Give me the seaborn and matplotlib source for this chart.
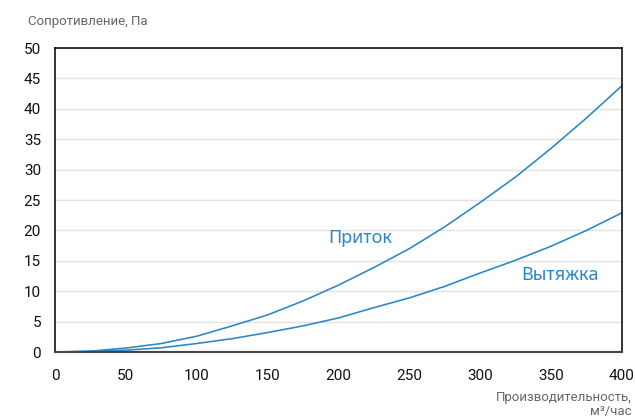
import matplotlib
matplotlib.use("Agg")
import matplotlib.pyplot as plt
import pandas as pd
import seaborn as sns

# air flow, m3/h
flow = [0, 25, 50, 75, 100, 125, 150, 175, 200, 225, 250, 275, 300, 325, 350, 375, 400]
# pressure drop, Pa
supply = [0, 0.15, 0.65, 1.4, 2.6, 4.3, 6.1, 8.4, 11.0, 13.9, 17.0, 20.6, 24.6, 28.8, 33.5, 38.5, 43.8]
exhaust = [0, 0.1, 0.3, 0.7, 1.4, 2.2, 3.2, 4.3, 5.6, 7.3, 8.9, 10.8, 13.0, 15.1, 17.4, 20.0, 22.9]

series_names = ["Приток", "Вытяжка"]
x_ticks = list(range(0, 401, 50))
y_ticks = list(range(0, 51, 5))

LINE = "#2a86c6"

df = pd.DataFrame({
    "flow": flow * 2,
    "dp": supply + exhaust,
    "series": [series_names[0]] * len(flow) + [series_names[1]] * len(flow),
})

sns.set_style("white")
plt.rcParams["font.family"] = ["Roboto", "DejaVu Sans"]

fig = plt.figure(figsize=(6.35, 4.16), dpi=100)
ax = fig.add_axes([0.0866, 0.1538, 0.8929, 0.7308])

sns.lineplot(data=df, x="flow", y="dp", hue="series", palette=[LINE, LINE],
             linewidth=1.15, legend=False, ax=ax)

ax.set_xlim(0, 400)
ax.set_ylim(0, 50)
ax.set_xticks(x_ticks)
ax.set_yticks(y_ticks)
ax.yaxis.grid(True, color="#e2e2e2", linewidth=1)
ax.xaxis.grid(False)
ax.tick_params(axis="both", length=0, labelsize=11, colors="#111111")
ax.tick_params(axis="x", pad=12)
ax.tick_params(axis="y", pad=10)
for side in ["left", "right", "top"]:
    ax.spines[side].set_color("#111111")
    ax.spines[side].set_linewidth(1.2)
ax.spines["bottom"].set_color("#444444")
ax.spines["bottom"].set_linewidth(1.5)
ax.set_xlabel("")
ax.set_ylabel("")

ax.text(215, 18.7, series_names[0], color=LINE, fontsize=13, family="Noto Sans",
        ha="center", va="center")
ax.text(356, 12.7, series_names[1], color=LINE, fontsize=13, family="Noto Sans",
        ha="center", va="center")

fig.text(28 / 635, 1 - 22 / 416, "Сопротивление, Па", color="#666666", fontsize=9.5,
         ha="left", va="center")
fig.text(632 / 635, 1 - 397 / 416, "Производительность,", color="#666666", fontsize=9.5,
         ha="right", va="center")
fig.text(632 / 635, 1 - 411 / 416, "м³/час", color="#666666", fontsize=9.5,
         ha="right", va="center")

fig.savefig("out.png", dpi=100)
